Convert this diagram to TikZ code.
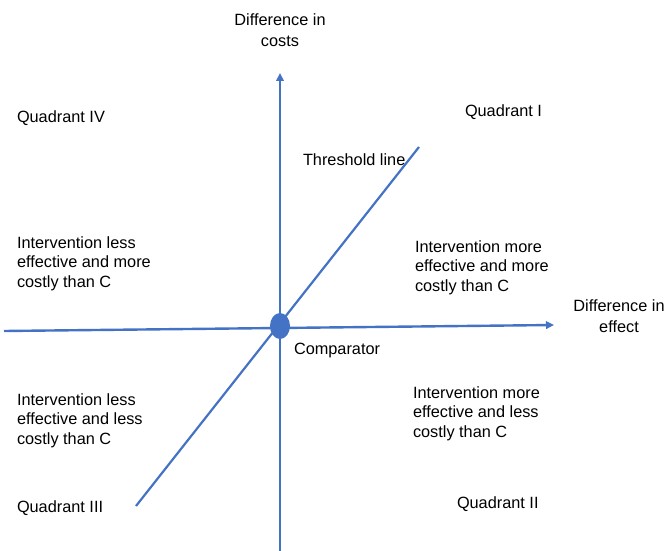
\documentclass[tikz,border=0pt]{standalone}
\usepackage{fontspec}
\setmainfont{Liberation Sans}
\usetikzlibrary{arrows.meta,shapes.geometric}
\definecolor{axisblue}{HTML}{4472C4}
\begin{document}
\begin{tikzpicture}[x=1pt,y=-1pt,
  lbl/.style={inner sep=0pt,outer sep=0pt,align=left,font=\fontsize{16.3}{19.5}\selectfont,text=black},
  lblc/.style={inner sep=0pt,outer sep=0pt,align=center,font=\fontsize{16.3}{21}\selectfont,text=black},
  axis/.style={draw=axisblue,line width=2.4pt,-{Triangle[length=8pt,width=7.5pt]}},
  thresh/.style={draw=axisblue,line width=2.2pt}]
\useasboundingbox (0,0) rectangle (667,551);
% axes
\coordinate (vbot) at (280,551);
\coordinate (vtop) at (280,73);
\coordinate (hleft) at (4,331);
\coordinate (hright) at (554,325);
\coordinate (tlow) at (136,506);
\coordinate (thigh) at (419,147);
\draw[axis] (vbot) -- (vtop);
\draw[axis] (hleft) -- (hright);
\draw[thresh] (tlow) -- (thigh);
\node[ellipse,fill=axisblue,draw=none,minimum width=20pt,minimum height=26pt,inner sep=0pt] (comp) at (280,326) {};
% labels (base anchor = baseline of last line)
\node[lblc,anchor=base] (ycost) at (280,47) {Difference in\\costs};
\node[lblc,anchor=base] (xeff) at (619,332) {Difference in\\effect};
\node[lbl,anchor=base west] (q4) at (17,122) {Quadrant IV};
\node[lbl,anchor=base west] (q1) at (465,116) {Quadrant I};
\node[lbl,anchor=base west] (q3) at (17,512) {Quadrant III};
\node[lbl,anchor=base west] (q2) at (457,508) {Quadrant II};
\node[lbl,anchor=base west] (thr) at (303,165) {Threshold line};
\node[lbl,anchor=base west] (cmp) at (294,354) {Comparator};
\node[lbl,anchor=base west] (t4) at (17,287) {Intervention less\\effective and more\\costly than C};
\node[lbl,anchor=base west] (t1) at (415,291) {Intervention more\\effective and more\\costly than C};
\node[lbl,anchor=base west] (t3) at (17,444) {Intervention less\\effective and less\\costly than C};
\node[lbl,anchor=base west] (t2) at (413,437) {Intervention more\\effective and less\\costly than C};
\end{tikzpicture}
\end{document}
